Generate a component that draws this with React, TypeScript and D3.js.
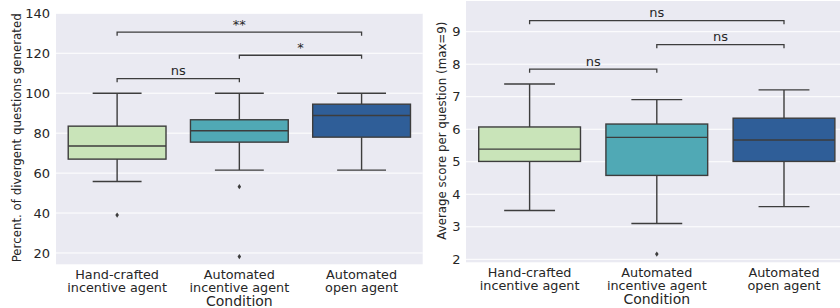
import React from "react";
import * as d3 from "d3";

const categories = ["Hand-crafted\nincentive agent", "Automated\nincentive agent", "Automated\nopen agent"];
const boxColors = ["#c9e4b9", "#50a9b5", "#2f5e98"];

// left panel: percent of divergent questions
const leftStats = [
  { q1: 67, median: 73.6, q3: 83.5, low: 55.8, high: 100, outliers: [39] },
  { q1: 75.5, median: 81.2, q3: 86.7, low: 61.5, high: 100, outliers: [53.2, 18.2] },
  { q1: 78, median: 88.8, q3: 94.5, low: 61.5, high: 100, outliers: [] as number[] },
];
const leftTicks = [20, 40, 60, 80, 100, 120, 140];
const leftAnnots = [
  { a: 0, b: 1, y: 107.3, label: "ns" },
  { a: 1, b: 2, y: 119, label: "*" },
  { a: 0, b: 2, y: 130.6, label: "**" },
];

// right panel: average score per question
const rightStats = [
  { q1: 5.01, median: 5.39, q3: 6.07, low: 3.5, high: 7.39, outliers: [] as number[] },
  { q1: 4.58, median: 5.75, q3: 6.16, low: 3.1, high: 6.91, outliers: [2.16] },
  { q1: 5.01, median: 5.67, q3: 6.34, low: 3.62, high: 7.21, outliers: [] as number[] },
];
const rightTicks = [2, 3, 4, 5, 6, 7, 8, 9];
const rightAnnots = [
  { a: 0, b: 1, y: 7.85, label: "ns" },
  { a: 1, b: 2, y: 8.6, label: "ns" },
  { a: 0, b: 2, y: 9.34, label: "ns" },
];

const FONT = "DejaVu Sans, sans-serif";
const LINE = "#3d3d3d";
const TEXT = "#262626";

type Stat = { q1: number; median: number; q3: number; low: number; high: number; outliers: number[] };
type Annot = { a: number; b: number; y: number; label: string };

function Panel(props: {
  x0: number; x1: number; y0: number; y1: number; domain: [number, number];
  ticks: number[]; stats: Stat[]; annots: Annot[]; ylabel: string; ylabelX: number; drop: number;
  tickLabelX: number; clipId: string;
}) {
  const { x0, x1, y0, y1, domain, ticks, stats, annots, ylabel, ylabelX, drop, tickLabelX, clipId } = props;
  const y = d3.scaleLinear().domain(domain).range([y1, y0]);
  const x = d3.scaleBand<number>().domain([0, 1, 2]).range([x0, x1]).paddingInner(0).paddingOuter(0);
  const bw = x.bandwidth() * 0.8;
  const cx = (i: number) => (x(i) as number) + x.bandwidth() / 2;
  return (
    <g>
      <defs>
        <clipPath id={clipId}><rect x={x0} y={y0} width={x1 - x0} height={y1 - y0} /></clipPath>
      </defs>
      <rect x={x0} y={y0} width={x1 - x0} height={y1 - y0} fill="#eaeaf2" />
      {ticks.map((t) => (
        <g key={t}>
          <line x1={x0} x2={x1} y1={y(t)} y2={y(t)} stroke="#ffffff" strokeWidth={1} />
          <text x={tickLabelX} y={y(t)} dy="0.36em" textAnchor="end" fontSize={13} fill={TEXT} fontFamily={FONT}>{t}</text>
        </g>
      ))}
      <g clipPath={`url(#${clipId})`}>
        {stats.map((s, i) => {
          const c = cx(i);
          return (
            <g key={i}>
              <line x1={c} x2={c} y1={y(s.q3)} y2={y(s.high)} stroke={LINE} strokeWidth={1.4} />
              <line x1={c} x2={c} y1={y(s.q1)} y2={y(s.low)} stroke={LINE} strokeWidth={1.4} />
              <line x1={c - bw / 4} x2={c + bw / 4} y1={y(s.high)} y2={y(s.high)} stroke={LINE} strokeWidth={1.4} />
              <line x1={c - bw / 4} x2={c + bw / 4} y1={y(s.low)} y2={y(s.low)} stroke={LINE} strokeWidth={1.4} />
              <rect x={c - bw / 2} y={y(s.q3)} width={bw} height={y(s.q1) - y(s.q3)} fill={boxColors[i]} stroke={LINE} strokeWidth={1.4} />
              <line x1={c - bw / 2} x2={c + bw / 2} y1={y(s.median)} y2={y(s.median)} stroke={LINE} strokeWidth={1.4} />
              {s.outliers.map((o, k) => (
                <path key={k} d={`M${c},${y(o) - 2.6}L${c + 1.8},${y(o)}L${c},${y(o) + 2.6}L${c - 1.8},${y(o)}Z`} fill={LINE} />
              ))}
            </g>
          );
        })}
        {annots.map((an, k) => {
          const xa = cx(an.a), xb = cx(an.b);
          const yy = y(an.y);
          return (
            <g key={k}>
              <path d={`M${xa},${yy + drop}L${xa},${yy}L${xb},${yy}L${xb},${yy + drop}`} fill="none" stroke={LINE} strokeWidth={1.3} />
              <text x={(xa + xb) / 2} y={yy - 3.3} textAnchor="middle" fontSize={13} fill={TEXT} fontFamily={FONT}>{an.label}</text>
            </g>
          );
        })}
      </g>
      {categories.map((c, i) => (
        <text key={i} x={cx(i)} y={y1 + 15} textAnchor="middle" fontSize={12.8} fill={TEXT} fontFamily={FONT}>
          {c.split("\n").map((ln, j) => (
            <tspan key={j} x={cx(i)} dy={j === 0 ? 0 : 12.9}>{ln}</tspan>
          ))}
        </text>
      ))}
      <text x={(x0 + x1) / 2} y={y1 + 41.8} textAnchor="middle" fontSize={14} fill={TEXT} fontFamily={FONT}>Condition</text>
      <text transform={`translate(${ylabelX},${(y0 + y1) / 2 - 1}) rotate(-90)`} textAnchor="middle" dy="0.36em" fontSize={11.8} fill={TEXT} fontFamily={FONT}>{ylabel}</text>
    </g>
  );
}

export default function App() {
  return (
    <svg width={840} height={308} style={{ position: "absolute", left: 0, top: 0, background: "#ffffff" }}>
      <Panel x0={56} x1={422.7} y0={13.3} y1={264.3} domain={[14.34, 140]} ticks={leftTicks} stats={leftStats}
        annots={leftAnnots} ylabel="Percent. of divergent questions generated" ylabelX={17} drop={3.6} tickLabelX={50} clipId="cl" />
      <Panel x0={466} x1={847.6} y0={1} y1={262.3} domain={[1.908, 9.944]} ticks={rightTicks} stats={rightStats}
        annots={rightAnnots} ylabel="Average score per question (max=9)" ylabelX={441.5} drop={3.6} tickLabelX={460.5} clipId="cr" />
    </svg>
  );
}
